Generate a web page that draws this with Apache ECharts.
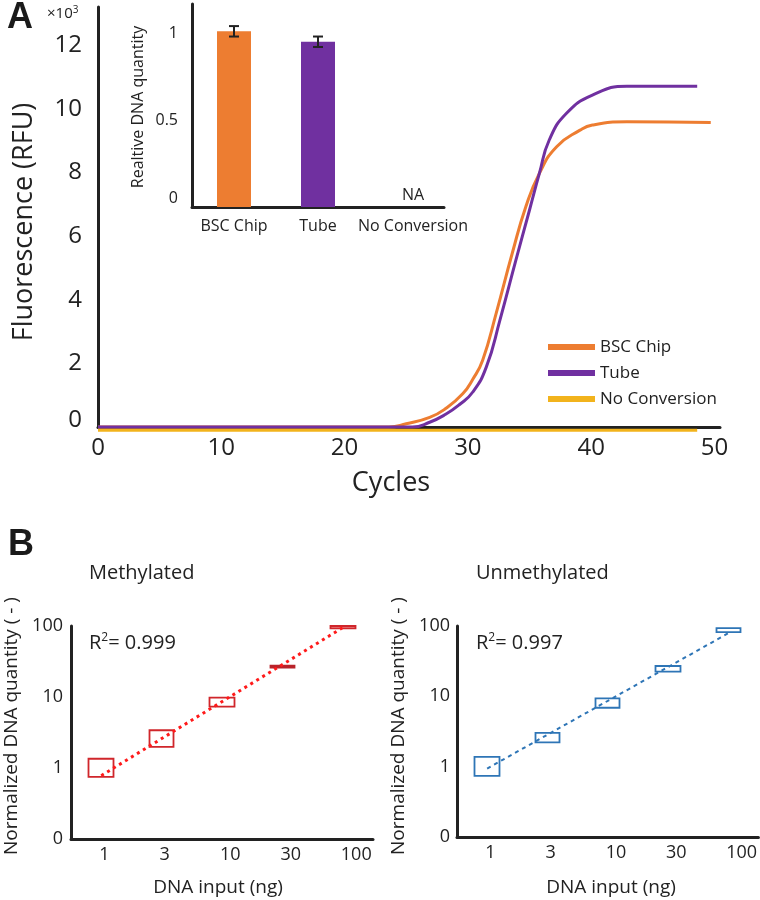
<!DOCTYPE html>
<html><head><meta charset="utf-8">
<script src="https://cdn.jsdelivr.net/npm/echarts@6/dist/echarts.min.js"></script>
<style>html,body{margin:0;padding:0;background:#fff}#c{width:760px;height:900px}</style>
</head><body><div id="c"></div>
<script>
// ---------- Panel A: amplification curves ----------
const cyclesBSC  = [0, 10, 20, 23.6, 25.0, 26.9, 28.2, 29.6, 30.4, 31.2, 32.3, 33.6, 34.7, 35.8, 37.2, 39.1, 40.1, 42.9, 49.7];
const rfuBSC     = [0, 0, 0, 0, 0.1, 0.3, 0.58, 1.05, 1.5, 2.10, 3.58, 5.46, 6.92, 7.97, 8.81, 9.33, 9.49, 9.59, 9.57];
const cyclesTube = [0, 10, 20, 25.5, 26.9, 28.2, 29.3, 30.4, 31.5, 32.6, 33.9, 35.0, 35.8, 36.6, 38.0, 40.1, 42.9, 48.6];
const rfuTube    = [0, 0, 0, 0, 0.15, 0.4, 0.7, 1.1, 1.89, 3.36, 5.25, 6.82, 7.97, 9.02, 9.86, 10.43, 10.71, 10.71];
const cyclesNoConv = [0, 48.6];
const rfuNoConv    = [-0.1, -0.1];
const seriesNamesA = ['BSC Chip', 'Tube', 'No Conversion'];

// ---------- Inset: relative DNA quantity ----------
const insetCats = ['BSC Chip', 'Tube', 'No Conversion'];
const insetVals = [1.01, 0.95, 0];
const insetErr  = [0.03, 0.03, null];

// ---------- Panel B: standard curves ----------
const inputNg    = ['1', '3', '10', '30', '100'];
const methLow    = [0.75, 1.98, 7.3, 26.0, 92.5];
const methHigh   = [1.35, 3.4, 9.8, 27.6, 100];
const methFit    = [0.78, null, null, null, 95];
const unmethLow  = [0.74, 2.21, 6.88, 22.4, 81.6];
const unmethHigh = [1.38, 3.03, 9.37, 27.0, 93.1];
const unmethFit  = [0.94, null, null, null, 78.9];
const r2Meth = '0.999', r2Unmeth = '0.997';

const FF = "'Open Sans', sans-serif";
const TXT = '#222';
const ORANGE = '#ED7D31', PURPLE = '#7030A0', YELLOW = '#F2B31C';
const RED = '#D0262B', BLUE = '#2E75B6';

const pair = (xs, ys) => xs.map((x, i) => [x, ys[i]]);
const axisLine = {show: true, lineStyle: {color: '#222', width: 3}};

const chart = echarts.init(document.getElementById('c'), null, {renderer: 'canvas'});

const candle = (lo, hi, special) => lo.map((l, i) => {
  const d = {value: [l, hi[i], l, hi[i]]};
  if (special && special[i]) d.itemStyle = special[i];
  return d;
});

const option = {
  animation: false,
  backgroundColor: '#fff',
  grid: [
    {left: 98, top: 7, width: 622, height: 420},
    {left: 192, top: 4, width: 252, height: 203},
    {left: 71, top: 626, width: 302, height: 213},
    {left: 457, top: 626, width: 303, height: 211}
  ],
  xAxis: [
    {gridIndex: 0, type: 'value', min: 0, max: 50.45, interval: 10,
     axisLine, axisTick: {show: false}, splitLine: {show: false},
     axisLabel: {fontFamily: FF, fontSize: 24, color: TXT, margin: 9,
       formatter: v => (Math.abs(v % 10) < 1e-6 ? String(v) : '')}},
    {gridIndex: 1, type: 'category', data: insetCats.map((c, i) => i === 2 ? {value: c, textStyle: {padding: [0, 0, 0, 22]}} : c),
     axisLine, axisTick: {show: false},
     axisLabel: {fontFamily: FF, fontSize: 16, color: TXT, margin: 11, interval: 0}},
    {gridIndex: 2, type: 'category', data: inputNg, axisLine, axisTick: {show: false},
     axisLabel: {fontFamily: FF, fontSize: 18, color: TXT, margin: 7, align: 'left', padding: [0, 0, 0, -2]}},
    {gridIndex: 3, type: 'category', data: inputNg, axisLine, axisTick: {show: false},
     axisLabel: {fontFamily: FF, fontSize: 18, color: TXT, margin: 7, align: 'left', padding: [0, 0, 0, -2]}}
  ],
  yAxis: [
    {gridIndex: 0, type: 'value', min: 0, max: 13.2, interval: 2,
     axisLine, axisTick: {show: false}, splitLine: {show: false},
     axisLabel: {fontFamily: FF, fontSize: 24, color: TXT, margin: 16,
       formatter: v => { if (v === 0) return '{z|0}'; return (Math.abs(v % 2) < 1e-6 && v <= 12) ? String(v) : ''; },
       rich: {z: {fontFamily: FF, fontSize: 24, color: TXT, padding: [0, 0, 14, 0]}}}},
    {gridIndex: 1, type: 'value', min: 0, max: 1.167, interval: 0.5,
     axisLine, axisTick: {show: false}, splitLine: {show: false},
     axisLabel: {fontFamily: FF, fontSize: 16, color: TXT, margin: 14,
       formatter: v => { if (v === 0) return '{z|0}'; if (Math.abs(v - 0.5) < 1e-6) return '0.5'; if (Math.abs(v - 1) < 1e-6) return '1'; return ''; },
       rich: {z: {fontFamily: FF, fontSize: 16, color: TXT, padding: [0, 0, 18, 0]}}}},
    {gridIndex: 2, type: 'log', logBase: 10, min: 0.1, max: 100,
     axisLine, axisTick: {show: false}, splitLine: {show: false},
     axisLabel: {fontFamily: FF, fontSize: 18, color: TXT, margin: 8, padding: [0, 0, 10, 0],
       formatter: v => (v < 0.5 ? '0' : String(Math.round(v)))}},
    {gridIndex: 3, type: 'log', logBase: 10, min: 0.1, max: 100,
     axisLine, axisTick: {show: false}, splitLine: {show: false},
     axisLabel: {fontFamily: FF, fontSize: 18, color: TXT, margin: 7, padding: [0, 0, 10, 0],
       formatter: v => (v < 0.5 ? '0' : String(Math.round(v)))}}
  ],
  legend: {
    data: seriesNamesA, orient: 'vertical', left: 543, top: 333,
    itemWidth: 47, itemHeight: 6, itemGap: 8, icon: 'rect', selectedMode: false,
    textStyle: {fontFamily: FF, fontSize: 17, color: TXT, lineHeight: 18}
  },
  series: [
    {name: seriesNamesA[0], type: 'line', xAxisIndex: 0, yAxisIndex: 0, data: pair(cyclesBSC, rfuBSC),
     showSymbol: false, smooth: 0.5, clip: false, color: ORANGE, lineStyle: {width: 3, color: ORANGE}, z: 3},
    {name: seriesNamesA[1], type: 'line', xAxisIndex: 0, yAxisIndex: 0, data: pair(cyclesTube, rfuTube),
     showSymbol: false, smooth: 0.5, clip: false, color: PURPLE, lineStyle: {width: 3, color: PURPLE}, z: 4},
    {name: seriesNamesA[2], type: 'line', xAxisIndex: 0, yAxisIndex: 0, data: pair(cyclesNoConv, rfuNoConv),
     showSymbol: false, clip: false, color: YELLOW, lineStyle: {width: 3, color: YELLOW}, z: 5},
    {name: 'inset', type: 'bar', xAxisIndex: 1, yAxisIndex: 1, barWidth: 34,
     data: insetVals.map((v, i) => {
       const cols = [ORANGE, PURPLE, '#888'];
       const d = {value: v, itemStyle: {color: cols[i]}};
       if (i === 2) d.label = {show: true, position: 'top', formatter: 'NA', offset: [11, 1], fontFamily: FF, fontSize: 16, color: TXT};
       return d;
     })},
    {name: 'insetErr', type: 'custom', xAxisIndex: 1, yAxisIndex: 1, z: 10,
     data: insetVals.map((v, i) => [i, v, insetErr[i]]).filter(d => d[2] != null),
     renderItem: (params, api) => {
       const xi = api.value(0), v = api.value(1), e = api.value(2);
       const t = api.coord([xi, v + e]), b = api.coord([xi, v - e]);
       const hw = 5, st = {stroke: '#222', lineWidth: 2};
       return {type: 'group', children: [
         {type: 'line', shape: {x1: t[0], y1: t[1], x2: b[0], y2: b[1]}, style: st},
         {type: 'line', shape: {x1: t[0] - hw, y1: t[1], x2: t[0] + hw, y2: t[1]}, style: st},
         {type: 'line', shape: {x1: b[0] - hw, y1: b[1], x2: b[0] + hw, y2: b[1]}, style: st}
       ]};
     }},
    {name: 'meth', type: 'candlestick', xAxisIndex: 2, yAxisIndex: 2, barWidth: 25,
     itemStyle: {color: '#fff', color0: '#fff', borderColor: RED, borderColor0: RED, borderWidth: 1.8},
     data: candle(methLow, methHigh, {3: {color: '#B8232A', color0: '#B8232A', borderColor: '#B8232A', borderColor0: '#B8232A'}, 4: {color: '#F2A7A7', color0: '#F2A7A7'}})},
    {name: 'methFit', type: 'line', xAxisIndex: 2, yAxisIndex: 2, data: methFit, connectNulls: true,
     showSymbol: false, lineStyle: {color: '#FF1A1A', width: 3, type: [3, 4]}, z: 5},
    {name: 'unmeth', type: 'candlestick', xAxisIndex: 3, yAxisIndex: 3, barWidth: 25,
     itemStyle: {color: '#fff', color0: '#fff', borderColor: BLUE, borderColor0: BLUE, borderWidth: 1.8},
     data: candle(unmethLow, unmethHigh)},
    {name: 'unmethFit', type: 'line', xAxisIndex: 3, yAxisIndex: 3, data: unmethFit, connectNulls: true,
     showSymbol: false, lineStyle: {color: BLUE, width: 2, type: [4, 4]}, z: 5}
  ],
  graphic: [
    {type: 'text', x: 7, y: 18, style: {text: 'A', font: "bold 36px 'Liberation Sans', Arial, sans-serif", fill: '#1a1a1a', verticalAlign: 'middle'}},
    {type: 'text', x: 47, y: 14, style: {text: '×10{s|3}', fontFamily: FF, fontSize: 15, fill: TXT, verticalAlign: 'middle',
      rich: {s: {fontFamily: FF, fontSize: 10, fill: TXT, padding: [0, 0, 8, 0]}}}},
    {type: 'text', x: 24, y: 222, rotation: Math.PI / 2, style: {text: 'Fluorescence (RFU)', fontFamily: FF, fontSize: 27, fill: TXT, align: 'center', verticalAlign: 'middle'}},
    {type: 'text', x: 391, y: 483, style: {text: 'Cycles', fontFamily: FF, fontSize: 27, fill: TXT, align: 'center', verticalAlign: 'middle'}},
    {type: 'text', x: 138, y: 107, rotation: Math.PI / 2, style: {text: 'Realtive DNA quantity', fontFamily: FF, fontSize: 16, fill: TXT, align: 'center', verticalAlign: 'middle'}},
    {type: 'text', x: 8, y: 545, style: {text: 'B', font: "bold 36px 'Liberation Sans', Arial, sans-serif", fill: '#1a1a1a', verticalAlign: 'middle'}},
    {type: 'text', x: 89, y: 573, style: {text: 'Methylated', fontFamily: FF, fontSize: 20, fill: TXT, verticalAlign: 'middle'}},
    {type: 'text', x: 476, y: 573, style: {text: 'Unmethylated', fontFamily: FF, fontSize: 20, fill: TXT, verticalAlign: 'middle'}},
    {type: 'text', x: 89, y: 643, style: {text: 'R{s|2}= ' + r2Meth, fontFamily: FF, fontSize: 20, fill: TXT, verticalAlign: 'middle',
      rich: {s: {fontFamily: FF, fontSize: 12, fill: TXT, padding: [0, 0, 10, 0]}}}},
    {type: 'text', x: 476, y: 643, style: {text: 'R{s|2}= ' + r2Unmeth, fontFamily: FF, fontSize: 20, fill: TXT, verticalAlign: 'middle',
      rich: {s: {fontFamily: FF, fontSize: 12, fill: TXT, padding: [0, 0, 10, 0]}}}},
    {type: 'text', x: 12, y: 726, rotation: Math.PI / 2, style: {text: 'Normalized DNA quantity ( - )', fontFamily: FF, fontSize: 19, fill: TXT, align: 'center', verticalAlign: 'middle'}},
    {type: 'text', x: 399, y: 726, rotation: Math.PI / 2, style: {text: 'Normalized DNA quantity ( - )', fontFamily: FF, fontSize: 19, fill: TXT, align: 'center', verticalAlign: 'middle'}},
    {type: 'text', x: 218, y: 888, style: {text: 'DNA input (ng)', fontFamily: FF, fontSize: 19, fill: TXT, align: 'center', verticalAlign: 'middle'}},
    {type: 'text', x: 611, y: 888, style: {text: 'DNA input (ng)', fontFamily: FF, fontSize: 19, fill: TXT, align: 'center', verticalAlign: 'middle'}}
  ]
};
chart.setOption(option);
</script>
</body></html>
